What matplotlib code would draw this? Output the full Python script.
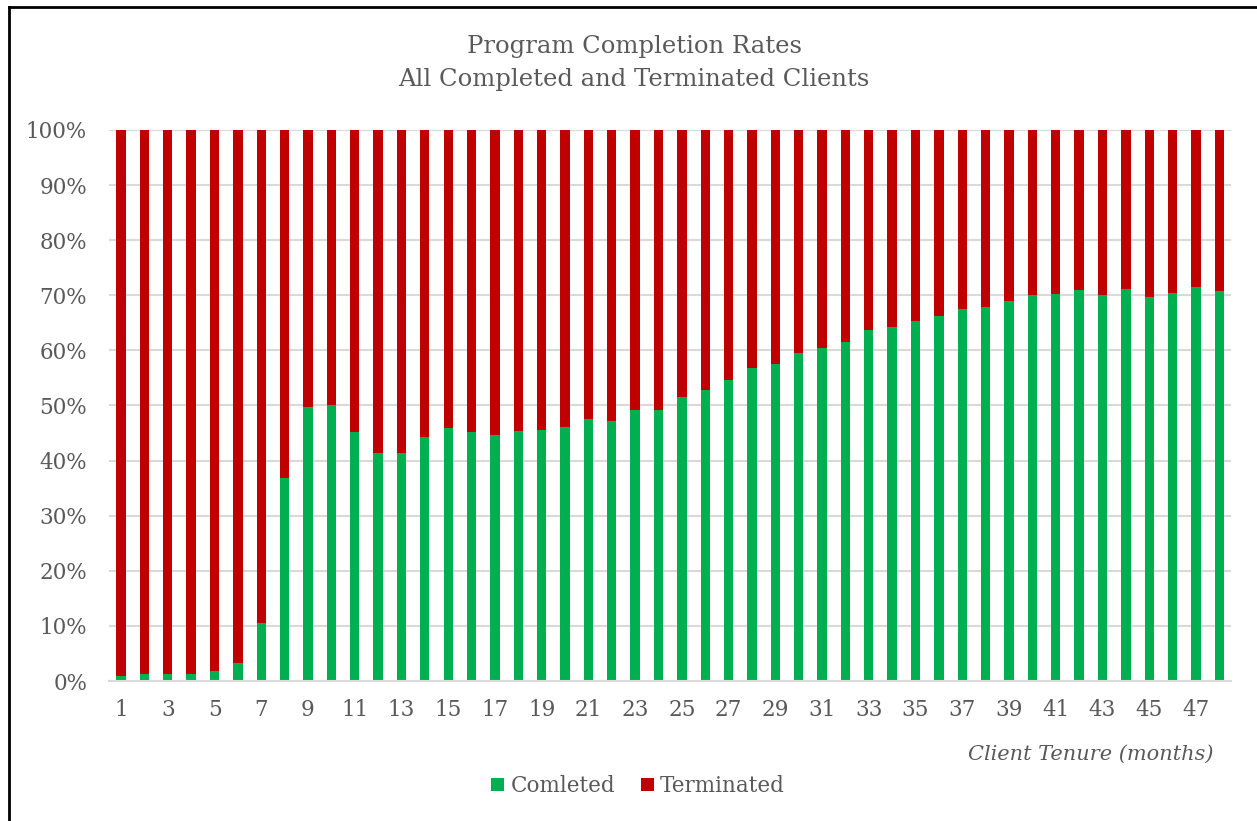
import numpy as np
import matplotlib
matplotlib.use('Agg')
import matplotlib.pyplot as plt
from matplotlib.lines import Line2D
from matplotlib.ticker import PercentFormatter

plt.rcParams['font.family'] = ['DejaVu Serif']

# months of tenure and completed share (%)
months = list(range(1, 49))
completed = [0.9, 1.3, 1.2, 1.3, 1.8, 3.2, 10.6, 36.8, 49.7, 50.0,
             45.1, 41.3, 41.3, 44.2, 46.0, 45.1, 44.6, 45.3, 45.5, 46.1,
             47.5, 47.2, 49.1, 49.1, 51.5, 52.9, 54.6, 56.8, 57.6, 59.6,
             60.5, 61.6, 63.7, 64.3, 65.3, 66.3, 67.5, 67.9, 68.9, 70.0,
             70.3, 70.9, 70.0, 71.1, 69.6, 70.4, 71.5, 70.7]
terminated = [100 - c for c in completed]
tick_months = list(range(1, 49, 2))

GREEN = '#00B050'
RED = '#C00000'
TXT = '#595959'
GRID = '#D9D9D9'

fig = plt.figure(figsize=(12.57, 8.21), dpi=100)
ax = fig.add_axes([0.087, 0.1705, 0.8923, 0.6712])

h1 = ax.bar(months, completed, width=0.4, color=GREEN, label='Comleted')
h2 = ax.bar(months, terminated, width=0.4, bottom=completed, color=RED, label='Terminated')

ax.set_xlim(0.5, 48.5)
ax.set_ylim(0, 100)
ax.set_yticks(np.arange(0, 101, 10))
ax.yaxis.set_major_formatter(PercentFormatter(decimals=0))
ax.set_xticks(tick_months)
ax.set_xticklabels([str(m) for m in tick_months])

ax.grid(axis='y', color=GRID, lw=1.5)
ax.set_axisbelow(True)
for s in ['top', 'right', 'left']:
    ax.spines[s].set_visible(False)
ax.spines['bottom'].set_color(GRID)
ax.spines['bottom'].set_linewidth(1.5)
ax.tick_params(axis='both', length=0, labelsize=15.5, colors=TXT)
ax.tick_params(axis='y', pad=16)
ax.tick_params(axis='x', pad=13)

fig.text(0.5045, 1 - 63 / 821, 'Program Completion Rates\nAll Completed and Terminated Clients',
         ha='center', va='center', fontsize=17.5, color=TXT, linespacing=1.6)
fig.text(1213 / 1257, 1 - 754 / 821, 'Client Tenure (months)', ha='right', va='center',
         fontsize=15, style='italic', color=TXT)

leg = fig.legend(handles=[h1, h2], loc='center', bbox_to_anchor=(638 / 1257, 1 - 786 / 821),
                 ncol=2, frameon=False, fontsize=15.5, handlelength=0.6, handleheight=0.6,
                 handletextpad=0.3, columnspacing=1.2)
for t in leg.get_texts():
    t.set_color(TXT)

# outer chart border (only top and left edges show)
fig.add_artist(Line2D([9 / 1257, 1], [1 - 7 / 821, 1 - 7 / 821], color='black', lw=2))
fig.add_artist(Line2D([9 / 1257, 9 / 1257], [0, 1 - 7 / 821], color='black', lw=2))

fig.savefig('out.png', dpi=100)
